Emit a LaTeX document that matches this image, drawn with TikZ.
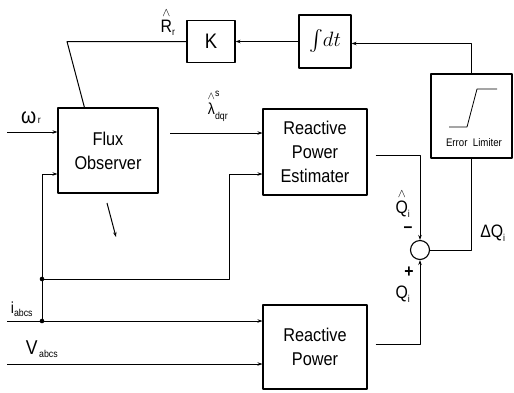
\documentclass[tikz,border=0pt]{standalone}
\usepackage{amsmath}
\usepackage{fontspec}
\setmainfont{Liberation Sans}[FakeStretch=0.88]
\usetikzlibrary{positioning,arrows.meta}
\newcommand{\smalltxt}[1]{\mbox{\fontsize{10}{10}\selectfont #1}}
\newcommand{\hatted}[1]{\stackrel{\wedge}{\mbox{#1}}}
\begin{document}
\begin{tikzpicture}[x=1pt, y=-1pt, line join=round, >={Stealth[length=5pt,width=3.5pt]},
		blk/.style={draw, line width=1.1pt, align=center, inner sep=0pt, font=\fontsize{18.5}{24}\selectfont},
		sig/.style={line width=1pt},
		lab/.style={inner sep=0pt, font=\fontsize{18}{20}\selectfont}]
			\useasboundingbox (0,0) rectangle (514,392);
			% blocks
			\node[blk, minimum width=100pt, minimum height=85pt] (flux) at (108,150.5) {Flux\\Observer};
			\node[blk, minimum width=48pt, minimum height=42pt, font=\fontsize{21}{21}\selectfont] (k) at (211,41.5) {K};
			\node[blk, minimum width=52pt, minimum height=53pt, font=\fontsize{21}{21}\selectfont] (int) at (325,41.5) {$\int\! dt$};
			\node[blk, minimum width=81pt, minimum height=84pt] (err) at (471.5,116) {};
			\node[blk, minimum width=104pt, minimum height=86pt] (est) at (315,152) {Reactive\\Power\\Estimater};
			\node[blk, minimum width=104pt, minimum height=84pt] (rp) at (315,347) {Reactive\\Power};
			\node[draw, circle, line width=1.1pt, minimum size=19pt, inner sep=0pt] (sum) at (420,250) {};
			\node[inner sep=0pt, font=\fontsize{11}{11}\selectfont] (errlab) at (474,143) {Error\ \ Limiter};
			\draw[line width=0.8pt] (449,127) -- (467,127) -- (477,89) -- (497,89);
			\path
			(7,132) coordinate (wr)
			(7,321) coordinate (iin)
			(7,364) coordinate (vin)
			(42,279) coordinate (j1)
			(42,321) coordinate (j2)
			(67,41.5) coordinate (bend)
			(170,133) coordinate (lam)
			(107,203) coordinate (pa)
			(116,237) coordinate (pb)
			;
			% signals
			\draw[sig,->] (wr) -- (wr -| flux.west);
			\draw[sig,->] (lam) -- (lam -| est.west);
			\draw[sig,->] (iin) -- (iin -| rp.west);
			\draw[sig,->] (vin) -- (vin -| rp.west);
			\draw[sig,->] (j2) |- ([yshift=-23.5pt]flux.west);
			\draw[sig,->] (j1) -| ([xshift=-33pt,yshift=-22pt]est.west) -- ([yshift=-22pt]est.west);
			\draw[sig,->] ([xshift=8pt,yshift=-3pt]est.east) -| (sum.north);
			\draw[sig,->] ([xshift=8pt,yshift=3pt]rp.east) -| (sum.south);
			\draw[sig] (sum.east) -| (err.south);
			\draw[sig,->] (err.north) |- ([yshift=-2pt]int.east);
			\draw[sig,->] (int.west) -- (k.east);
			\draw[sig] (k.west) -- (bend) -- ([xshift=27pt]flux.north west);
			\draw[sig,->] (pa) -- (pb);
			\foreach \j in {j1,j2}
			\fill (\j) circle (2.3pt);
			% labels
			\node[lab, font=\fontsize{22}{22}\selectfont] (wrlab) at (31,118) {ω\smalltxt{\,r}};
			\node[lab] (rlab) at (168,22) {$\hatted{R}_{\smalltxt{r}}$};
			\node[lab, font=\fontsize{16}{16}\selectfont] (lamlab) at (218,106) {$\hatted{λ}^{\smalltxt{s}}_{\smalltxt{dqr}}$};
			\node[lab] (qhlab) at (403,203) {$\hatted{Q}_{\smalltxt{i}}$};
			\node[lab] (minus) at (408,230) {\bfseries –};
			\node[lab] (plus) at (409,272) {\bfseries +};
			\node[lab] (qlab) at (403,294) {$\mbox{Q}_{\smalltxt{i}}$};
			\node[lab] (dqlab) at (493,233) {$\mbox{ΔQ}_{\smalltxt{i}}$};
			\node[lab, font=\fontsize{16}{16}\selectfont] (ilab) at (22,309) {$\mbox{i}_{\smalltxt{abcs}}$};
			\node[lab, font=\fontsize{20}{20}\selectfont] (vlab) at (42,349) {$\mbox{V}_{\smalltxt{\,abcs}}$};
		\end{tikzpicture}
\end{document}
